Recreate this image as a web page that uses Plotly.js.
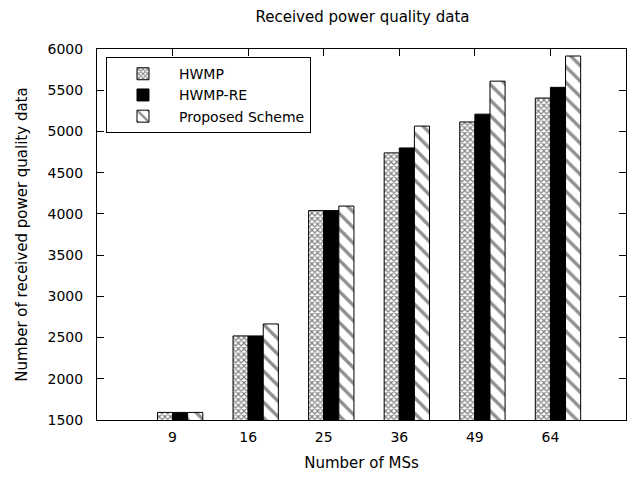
<!DOCTYPE html>
<html>
<head>
<meta charset="utf-8">
<script src="https://cdn.plot.ly/plotly-3.0.1.min.js"></script>
<style>html,body{margin:0;padding:0;background:#fff;}#chart{width:636px;height:483px;}</style>
</head>
<body>
<div id="chart"></div>
<script>
const categories = ['9', '16', '25', '36', '49', '64'];
const seriesNames = ['HWMP', 'HWMP-RE', 'Proposed Scheme'];
const hwmp = [1592, 2520, 4040, 4740, 5115, 5405];
const hwmpRe = [1592, 2520, 4040, 4800, 5210, 5535];
const proposed = [1592, 2665, 4095, 5065, 5610, 5915];
const yTicks = [1500, 2000, 2500, 3000, 3500, 4000, 4500, 5000, 5500, 6000];

const textFont = {family: 'DejaVu Sans, sans-serif', size: 15, color: '#000'};
const legendFont = {family: 'DejaVu Sans, sans-serif', size: 14, color: '#000'};
const tickFont = {family: 'DejaVu Sans, sans-serif', size: 14, color: '#000'};
const outline = {color: '#000', width: 1};

const traces = [
  {
    type: 'bar', name: seriesNames[0], x: categories, y: hwmp,
    width: 0.2, offset: -0.2,
    marker: {color: '#fff', line: outline,
      pattern: {shape: 'x', size: 4, solidity: 0.5, fgcolor: '#000', bgcolor: '#fff', fillmode: 'overlay'}}
  },
  {
    type: 'bar', name: seriesNames[1], x: categories, y: hwmpRe,
    width: 0.2, offset: 0,
    marker: {color: '#000', line: outline}
  },
  {
    type: 'bar', name: seriesNames[2], x: categories, y: proposed,
    width: 0.2, offset: 0.2,
    marker: {color: '#fff', line: outline,
      pattern: {shape: '\\', size: 11, solidity: 0.3, fgcolor: '#222', bgcolor: '#fff', fillmode: 'overlay'}}
  }
];

const layout = {
  width: 636, height: 483,
  margin: {l: 97, r: 10, t: 49, b: 63},
  paper_bgcolor: '#fff', plot_bgcolor: '#fff',
  font: textFont,
  title: {text: 'Received power quality data', font: textFont, x: 0.57, xanchor: 'center', y: 0.965, yanchor: 'middle'},
  barmode: 'group',
  showlegend: true,
  legend: {
    x: 0.017, y: 0.978, xanchor: 'left', yanchor: 'top',
    bordercolor: '#000', borderwidth: 1, bgcolor: '#fff',
    font: legendFont, traceorder: 'normal', tracegroupgap: 0, itemwidth: 62
  },
  xaxis: {
    type: 'category', range: [-1, 6],
    showline: true, linecolor: '#000', linewidth: 1, mirror: 'allticks',
    ticks: 'inside', ticklen: 7, tickcolor: '#000', tickwidth: 1,
    tickfont: tickFont, ticklabelstandoff: 4,
    showgrid: false, zeroline: false, fixedrange: true,
    title: {text: 'Number of MSs', font: textFont, standoff: 13}
  },
  yaxis: {
    range: [1500, 6000], tickvals: yTicks, ticktext: yTicks.map(String),
    showline: true, linecolor: '#000', linewidth: 1, mirror: 'allticks',
    ticks: 'inside', ticklen: 7, tickcolor: '#000', tickwidth: 1,
    tickfont: tickFont, ticklabelstandoff: 10,
    showgrid: false, zeroline: false, fixedrange: true,
    title: {text: 'Number of received power quality data', font: textFont, standoff: 16}
  }
};

Plotly.newPlot('chart', traces, layout, {staticPlot: true, displayModeBar: false});
</script>
</body>
</html>
